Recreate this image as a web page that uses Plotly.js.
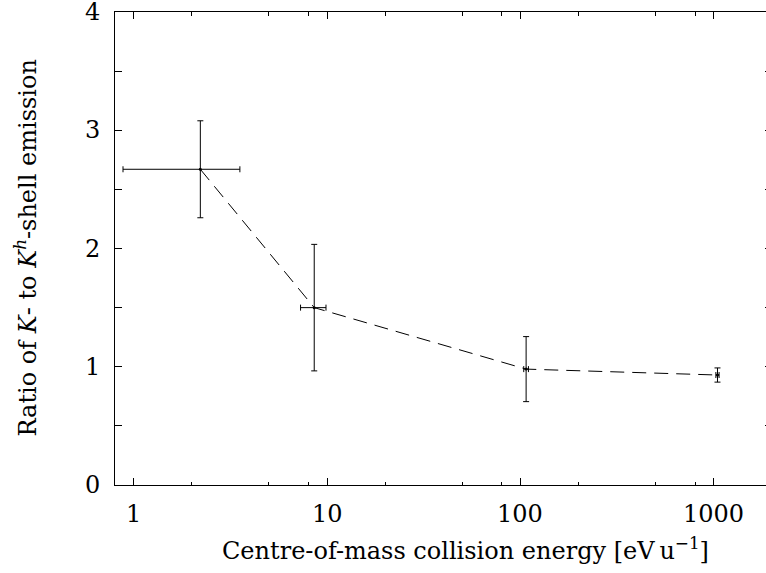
<!DOCTYPE html>
<html>
<head>
<meta charset="utf-8">
<script src="https://cdn.plot.ly/plotly-3.0.1.min.js"></script>
<style>
html,body{margin:0;padding:0;overflow:hidden;background:#fff;}
#chart{position:absolute;left:0;top:-30px;width:780px;height:603px;}
</style>
</head>
<body>
<div id="chart"></div>
<script>
// Data
const energy = [2.21, 8.58, 107, 1045];          // centre-of-mass energy [eV/u]
const energyErr = [1.33, 1.29, 3, 20];           // horizontal error
const ratio = [2.67, 1.50, 0.98, 0.93];          // K / K^h ratio
const ratioErr = [0.41, 0.535, 0.275, 0.06];     // vertical error
const xTickVals = [1, 10, 100, 1000];
const xTickText = ['1', '10', '100', '1000'];
const xMinorVals = [2, 5, 8, 20, 50, 80, 200, 500, 800];
const yTickVals = [0, 1, 2, 3, 4];
const yTickText = ['0', '1', '2', '3', '4'];
const xTitle = 'Centre-of-mass collision energy [eV\u2009u<sup>\u22121</sup>]';
const yTitle = 'Ratio of <i>K</i>- to <i>K</i><sup><i>h</i></sup>-shell emission';

const fontFam = 'DejaVu Serif';

const trace = {
  x: energy,
  y: ratio,
  type: 'scatter',
  mode: 'lines+markers',
  line: {color: '#000', width: 1, dash: '14px,8px'},
  marker: {color: '#000', size: 3},
  error_x: {type: 'data', array: energyErr, visible: true, color: '#000', thickness: 1, width: 3},
  error_y: {type: 'data', array: ratioErr, visible: true, color: '#000', thickness: 1, width: 3},
  showlegend: false,
  hoverinfo: 'skip'
};

const annotations = [];
xTickVals.forEach((v, i) => annotations.push({
  xref: 'x', yref: 'paper', x: Math.log10(v), y: 0, yshift: -29,
  xanchor: 'center', yanchor: 'middle', showarrow: false,
  text: xTickText[i], font: {family: fontFam, size: 24}
}));
yTickVals.forEach((v, i) => annotations.push({
  xref: 'paper', yref: 'y', x: 0, y: v, xshift: -13,
  xanchor: 'right', yanchor: 'middle', showarrow: false,
  text: yTickText[i], font: {family: fontFam, size: 24}
}));
annotations.push({
  xref: 'paper', yref: 'paper', x: 0.534, y: 0, yshift: -64,
  xanchor: 'center', yanchor: 'middle', showarrow: false,
  text: xTitle, font: {family: fontFam, size: 24}
});
annotations.push({
  xref: 'paper', yref: 'paper', x: 0, y: 0.5, xshift: -90,
  xanchor: 'center', yanchor: 'middle', showarrow: false, textangle: -90,
  text: yTitle, font: {family: fontFam, size: 24}
});

const layout = {
  width: 780,
  height: 603,
  margin: {l: 115, r: 8, t: 42, b: 88},
  paper_bgcolor: '#fff',
  plot_bgcolor: '#fff',
  font: {family: fontFam, color: '#000', size: 24},
  xaxis: {
    type: 'log',
    range: [Math.log10(0.8), Math.log10(2000)],
    tickmode: 'array',
    tickvals: xTickVals,
    ticktext: xTickText,
    showticklabels: false,
    ticks: 'inside',
    ticklen: 7,
    tickwidth: 1,
    tickcolor: '#000',
    minor: {tickmode: 'array', tickvals: xMinorVals, ticks: 'inside', ticklen: 3.5, tickwidth: 1, tickcolor: '#000', showgrid: false},
    showline: true,
    linecolor: '#000',
    linewidth: 1.3,
    mirror: 'allticks',
    showgrid: false,
    zeroline: false
  },
  yaxis: {
    range: [0, 4],
    tickmode: 'array',
    tickvals: yTickVals,
    ticktext: yTickText,
    showticklabels: false,
    ticks: 'inside',
    ticklen: 7,
    tickwidth: 1,
    tickcolor: '#000',
    minor: {dtick: 0.5, ticks: 'inside', ticklen: 7, tickwidth: 1, tickcolor: '#000', showgrid: false},
    showline: true,
    linecolor: '#000',
    linewidth: 1.3,
    mirror: 'allticks',
    showgrid: false,
    zeroline: false
  },
  annotations: annotations
};

Plotly.newPlot('chart', [trace], layout, {staticPlot: true, displayModeBar: false});
</script>
</body>
</html>
